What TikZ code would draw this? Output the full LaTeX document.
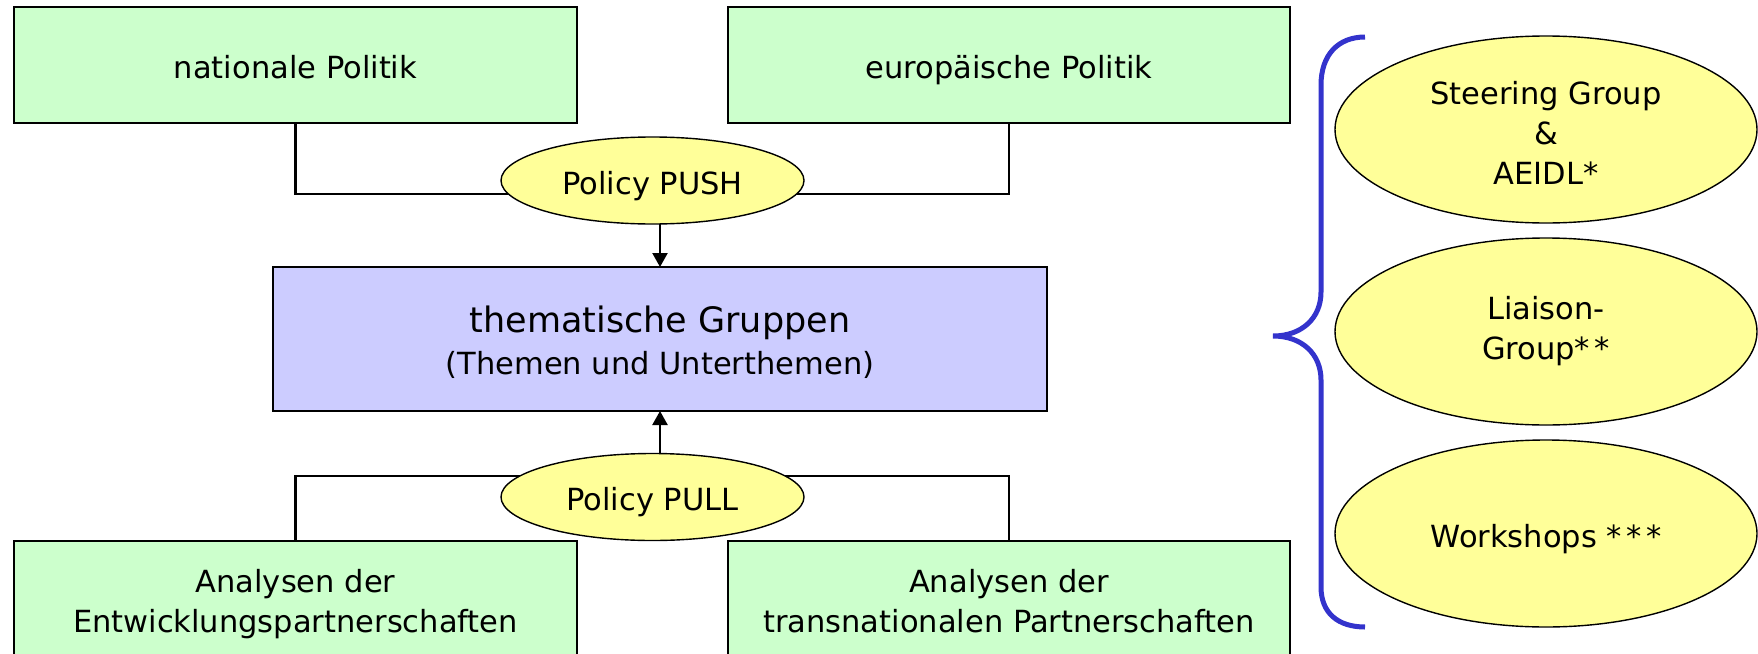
\documentclass[tikz,border=0pt]{standalone}
\usepackage{fontspec}
\setmainfont{DejaVu Sans}
\usetikzlibrary{shapes.geometric,arrows.meta,backgrounds}
\definecolor{boxgreen}{RGB}{204,255,204}
\definecolor{boxblue}{RGB}{204,204,255}
\definecolor{elyellow}{RGB}{255,255,153}
\definecolor{bracecol}{RGB}{51,51,204}
\begin{document}
\begin{tikzpicture}[x=1pt,y=-1pt,
  every node/.style={font=\fontsize{30.5}{40}\selectfont, inner sep=0pt, outer sep=0pt},
  gbox/.style={draw, line width=1.8pt, fill=boxgreen, rectangle, align=center},
  bbox/.style={draw, line width=1.8pt, fill=boxblue, rectangle, align=center},
  ell/.style={ellipse, draw, line width=1.4pt, fill=elyellow, align=center},
  one/.style={text height=27.5pt, text depth=0pt},
  conn/.style={line width=2.3pt},
  arr/.style={line width=2.3pt, -{Triangle[length=14pt,width=15pt]}},
  bracestyle/.style={draw=bracecol, line width=5pt}
]
\useasboundingbox (0,0) rectangle (1758,653);
\clip (0,0) rectangle (1758,653);

\node[gbox,one,minimum width=563pt,minimum height=116pt] (nat) at (295.5,65) {nationale Politik};
\node[gbox,one,minimum width=562pt,minimum height=116pt] (eur) at (1009,65) {europäische Politik};

\node[bbox,minimum width=774pt,minimum height=144pt] (cen) at (660,339)
  {{\fontsize{35}{42}\selectfont\rule{0pt}{33pt}thematische Gruppen}\\[2pt](Themen und Unterthemen)};

\node[ell,one,minimum width=303pt,minimum height=87pt] (push) at (652.5,180.5) {Policy PUSH};
\node[ell,one,minimum width=303pt,minimum height=87pt] (pull) at (652.5,497) {Policy PULL};

\node[gbox,minimum width=563pt,minimum height=127pt] (ent) at (295.5,604.5)
  {Analysen der\\Entwicklungspartnerschaften};
\node[gbox,minimum width=562pt,minimum height=127pt] (tra) at (1009,604.5)
  {Analysen der\\transnationalen Partnerschaften\vphantom{p}};

\node[ell,minimum width=422pt,minimum height=187pt] (steer) at (1546,129.5)
  {\rule{0pt}{29.5pt}Steering Group\\\&\\AEIDL*};
\node[ell,minimum width=422pt,minimum height=187pt] (liai) at (1546,331.5)
  {Liaison-\\Group*\kern4.5pt*};
\node[ell,one,minimum width=422pt,minimum height=187pt] (work) at (1546,533.5)
  {Workshops *\kern4.5pt*\kern4.5pt*};

\begin{scope}[on background layer]
  \draw[conn] (nat.south) -- ++(0,71) -| (eur.south);
  \draw[conn] (ent.north) -- ++(0,-65) -| (tra.north);
\end{scope}

\draw[arr] (push.south -| cen.north) -- (cen.north);
\draw[arr] (pull.north -| cen.south) -- (cen.south);

\draw[bracestyle] (1365,37) .. controls (1338,37) and (1321,55) .. (1321,85)
  -- (1321,292) .. controls (1321,318) and (1302,336) .. (1273,336)
  .. controls (1302,336) and (1321,354) .. (1321,380)
  -- (1321,587) .. controls (1321,613) and (1338,627) .. (1365,627);
\end{tikzpicture}
\end{document}
